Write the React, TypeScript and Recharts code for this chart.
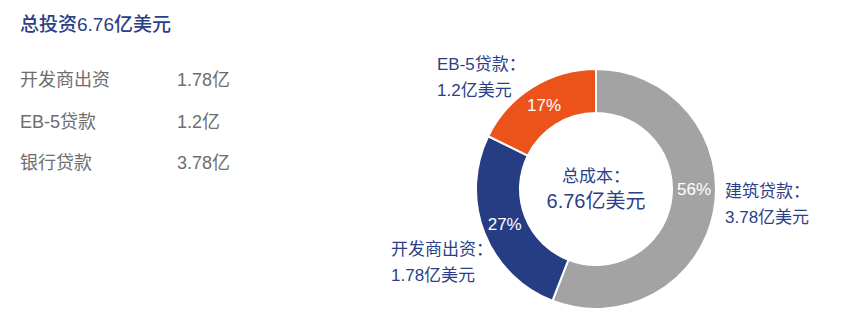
import React from "react";
import { PieChart, Pie, Cell } from "recharts";

const sliceNames = ["建筑贷款", "开发商出资", "EB-5贷款"];
const sliceValues = [3.78, 1.78, 1.2];
const sliceValueLabels = ["3.78亿美元", "1.78亿美元", "1.2亿美元"];
const slicePercentLabels = ["56%", "27%", "17%"];
const sliceColors = ["#A3A3A3", "#263D84", "#EB531B"];

const listNames = ["开发商出资", "EB-5贷款", "银行贷款"];
const listValues = ["1.78亿", "1.2亿", "3.78亿"];

const titleText = "总投资6.76亿美元";
const centerLine1 = "总成本：";
const centerLine2 = "6.76亿美元";

const FONT = '"Liberation Sans", "Noto Sans CJK SC", sans-serif';
const BLUE_TEXT = "#2B3F88";
const GRAY_TEXT = "#6E6E6E";

const data = sliceNames.map((name, i) => ({ name, value: sliceValues[i] }));

// layout of outer callouts relative to pie centre (px)
const calloutLayout = [
  { dx: 129, dy: 2 },
  { dx: -205, dy: 60 },
  { dx: -159, dy: -125 },
];
const pctAngleNudge = [10.6, 0, 0];

const RAD = Math.PI / 180;

const renderLabel = (props: any) => {
  const { cx, cy, midAngle, innerRadius, outerRadius, index } = props;
  const r = (innerRadius + outerRadius) / 2;
  const a = (midAngle + pctAngleNudge[index]) * RAD;
  const px = cx + r * Math.cos(a);
  const py = cy - r * Math.sin(a);
  const lay = calloutLayout[index];
  return (
    <g>
      <text
        x={px}
        y={py}
        fill="#fff"
        fontSize={17}
        fontFamily={FONT}
        textAnchor="middle"
        dominantBaseline="central"
      >
        {slicePercentLabels[index]}
      </text>
      <text
        x={cx + lay.dx}
        y={cy + lay.dy}
        fill={BLUE_TEXT}
        fontSize={17}
        fontFamily={FONT}
        textAnchor="start"
        dominantBaseline="central"
      >
        {sliceNames[index] + "："}
      </text>
      <text
        x={cx + lay.dx}
        y={cy + lay.dy + 26}
        fill={BLUE_TEXT}
        fontSize={17}
        fontFamily={FONT}
        textAnchor="start"
        dominantBaseline="central"
      >
        {sliceValueLabels[index]}
      </text>
      {index === 0 && (
        <g>
          <text
            x={cx}
            y={cy - 13}
            fill={BLUE_TEXT}
            fontSize={17}
            fontFamily={FONT}
            textAnchor="middle"
            dominantBaseline="central"
          >
            {centerLine1}
          </text>
          <text
            x={cx}
            y={cy + 12}
            fill={BLUE_TEXT}
            fontSize={20}
            fontFamily={FONT}
            textAnchor="middle"
            dominantBaseline="central"
          >
            {centerLine2}
          </text>
        </g>
      )}
    </g>
  );
};

export default function App() {
  return (
    <div
      style={{
        position: "absolute",
        left: 0,
        top: 0,
        width: 845,
        height: 311,
        background: "#fff",
        fontFamily: FONT,
      }}
    >
      <div
        style={{
          position: "absolute",
          left: 20,
          top: 24,
          transform: "translateY(-50%)",
          fontSize: 19,
          fontWeight: 500,
          color: BLUE_TEXT,
          whiteSpace: "nowrap",
          lineHeight: 1,
        }}
      >
        {titleText}
      </div>
      {listNames.map((n, i) => (
        <React.Fragment key={n}>
          <div
            style={{
              position: "absolute",
              left: 20,
              top: 80 + i * 41.5,
              transform: "translateY(-50%)",
              fontSize: 18,
              color: GRAY_TEXT,
              whiteSpace: "nowrap",
              lineHeight: 1,
            }}
          >
            {n}
          </div>
          <div
            style={{
              position: "absolute",
              left: 177,
              top: 80 + i * 41.5,
              transform: "translateY(-50%)",
              fontSize: 18,
              color: GRAY_TEXT,
              whiteSpace: "nowrap",
              lineHeight: 1,
            }}
          >
            {listValues[i]}
          </div>
        </React.Fragment>
      ))}
      <div style={{ position: "absolute", left: 0, top: 0 }}>
        <PieChart width={845} height={311}>
          <Pie
            data={data}
            dataKey="value"
            nameKey="name"
            cx={591}
            cy={184}
            innerRadius={76}
            outerRadius={120}
            startAngle={90}
            endAngle={-270}
            stroke="#fff"
            strokeWidth={2}
            label={renderLabel}
            labelLine={false}
            isAnimationActive={false}
          >
            {data.map((d, i) => (
              <Cell key={d.name} fill={sliceColors[i]} />
            ))}
          </Pie>
        </PieChart>
      </div>
    </div>
  );
}
